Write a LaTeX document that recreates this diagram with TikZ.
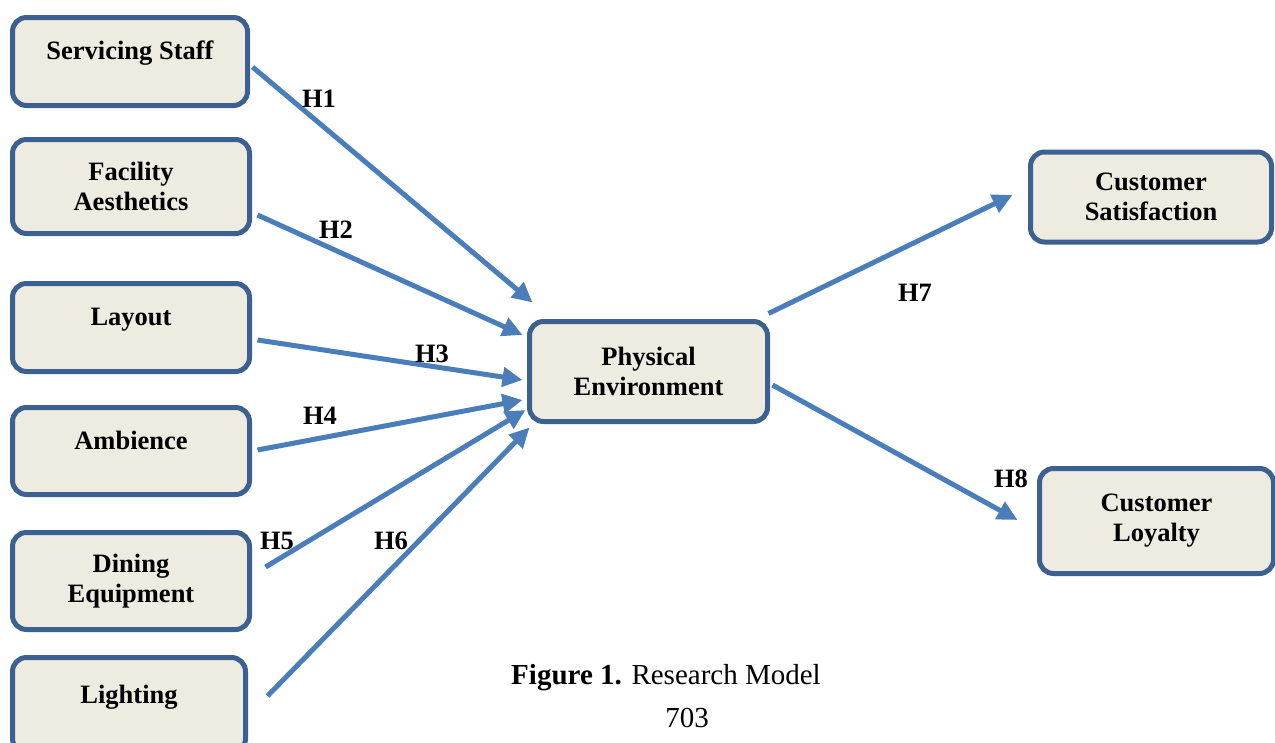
\documentclass[tikz,border=0pt]{standalone}
\usepackage{fontspec}
\setmainfont{Liberation Serif}
\usetikzlibrary{arrows.meta,calc}
\definecolor{boxfill}{HTML}{EEECE1}
\definecolor{boxline}{HTML}{3C6190}
\definecolor{arrowblue}{HTML}{4A7EBB}
% second, empty line that keeps a one-line label in the upper part of its box
\newcommand{\lowline}{\\[-8pt]\mbox{}}
\begin{document}
\begin{tikzpicture}[x=1pt,y=-1pt,
  box/.style={draw=boxline, fill=boxfill, line width=5pt, rounded corners=14pt,
    inner sep=0pt, align=center, font=\fontsize{26.5}{30}\selectfont\bfseries},
  link/.style={draw=arrowblue, line width=5pt,
    -{Triangle[length=20pt,width=19pt]}},
  hyp/.style={font=\fontsize{26.5}{30}\selectfont\bfseries, inner sep=0pt}]
\useasboundingbox (0,0) rectangle (1275,742);
\clip (0,0) rectangle (1275,742);

% constructs on the left
\node[box, minimum width=235pt, minimum height=88pt] (ss) at (130,61.5) {Servicing Staff\lowline};
\node[box, minimum width=237pt, minimum height=94pt] (fa) at (131,186.5) {Facility\\Aesthetics};
\node[box, minimum width=237pt, minimum height=88pt] (lay) at (131,327.5) {Layout\lowline};
\node[box, minimum width=237pt, minimum height=87pt] (amb) at (131,451) {Ambience\lowline};
\node[box, minimum width=237pt, minimum height=97pt] (de) at (131,581) {Dining\\Equipment};
\node[box, minimum width=233pt, minimum height=95pt] (li) at (129,705) {Lighting\lowline};

% mediator and outcomes
\node[box, minimum width=238pt, minimum height=100pt] (pe) at (648.5,371.5) {Physical\\Environment};
\node[box, minimum width=241pt, minimum height=90pt] (cs) at (1151,197) {Customer\\Satisfaction};
\node[box, minimum width=234pt, minimum height=105pt] (cl) at (1156.5,521) {Customer\\Loyalty};

% hypothesised paths
\draw[link] ($(ss.east)+(2.5,5.5)$) -- ($(pe.north west)+(5.5,-16.5)$);
\draw[link] ($(fa.east)+(5.5,28.5)$) -- ($(pe.west)+(-4.5,-36.5)$);
\draw[link] ($(lay.east)+(5.5,12.5)$) -- ($(pe.west)+(-4.5,8.5)$);
\draw[link] ($(amb.east)+(5.5,-1)$) -- ($(pe.west)+(-4.5,28.5)$);
\draw[link] ($(de.east)+(13.5,-14)$) -- ($(pe.west)+(-1.5,38.5)$);
\draw[link] ($(li.east)+(19.5,-9)$) -- ($(pe.south west)+(2.5,3.5)$);
\draw[link] ($(pe.north east)+(-1.5,-5.5)$) -- ($(cs.west)+(-15.5,-2)$);
\draw[link] ($(pe.east)+(2.5,13.5)$) -- ($(cl.west)+(-19.5,-1)$);

% hypothesis labels
\node[hyp] (h1) at (319,99) {H1};
\node[hyp] (h2) at (336,230) {H2};
\node[hyp] (h3) at (432,354) {H3};
\node[hyp] (h4) at (320,416) {H4};
\node[hyp] (h5) at (277,541) {H5};
\node[hyp] (h6) at (391,541) {H6};
\node[hyp] (h7) at (915,293) {H7};
\node[hyp] (h8) at (1011,479) {H8};

% caption and page number
\node[font=\fontsize{29}{33}\selectfont, inner sep=0pt] (cap) at (666,678) {\textbf{Figure 1.} Research Model};
\node[font=\fontsize{29}{33}\selectfont, inner sep=0pt] (pg) at (687,718) {703};
\end{tikzpicture}
\end{document}
